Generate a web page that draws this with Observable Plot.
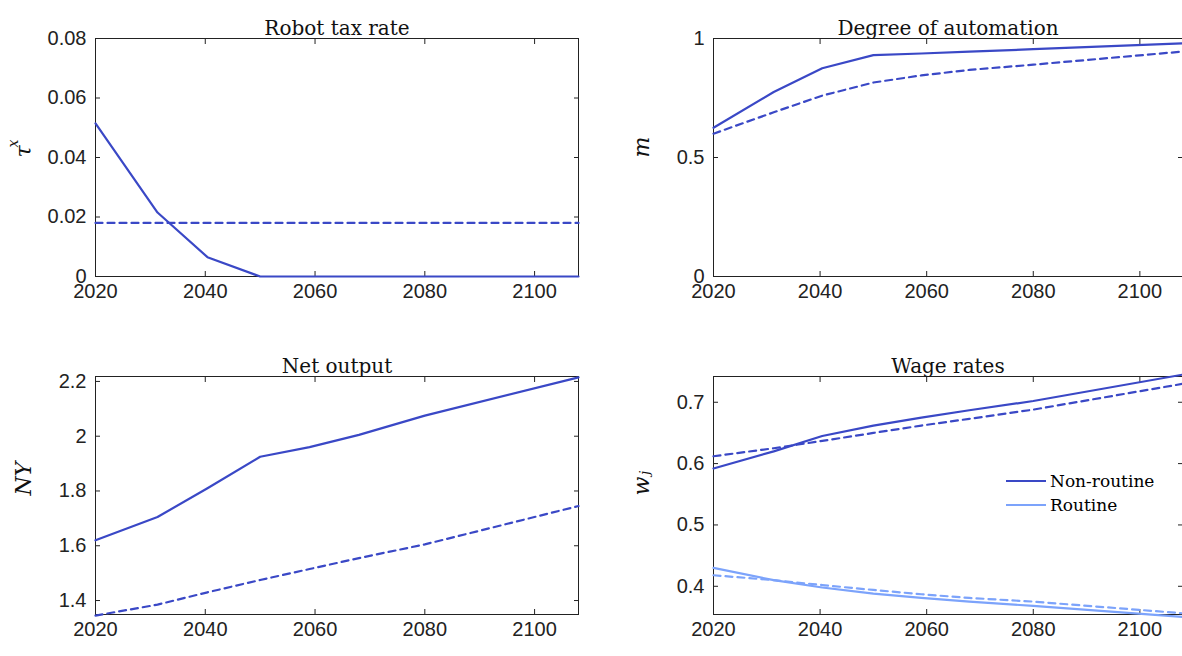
<!DOCTYPE html>
<html><head>
<script src="https://cdn.jsdelivr.net/npm/d3@7"></script>
<script src="https://cdn.jsdelivr.net/npm/@observablehq/plot@0.6"></script>
<style>
body{margin:0;background:#fff;}
#wrap{position:relative;width:1182px;height:656px;}
.p{position:absolute;}
.leg{position:absolute;font-family:"DejaVu Serif",serif;font-size:17px;}
.leg div{display:flex;align-items:center;height:24px;}
.leg span{display:inline-block;width:40px;height:0;border-top:2.5px solid;margin-right:4px;}
</style>
</head><body>
<div id="wrap"></div>
<script>
const dark = "#3a48c6", light = "#7ca3fb";
// years of knots
const yrs = [2020, 2031.3, 2040.4, 2050, 2059, 2068, 2080, 2108];
// robot tax
const tauSolid = [0.0515, 0.0215, 0.0065, 0, 0, 0, 0, 0];
const tauDash = [0.018, 0.018, 0.018, 0.018, 0.018, 0.018, 0.018, 0.018];
// automation
const mSolid = [0.625, 0.775, 0.875, 0.93, 0.937, 0.945, 0.955, 0.98];
const mDash = [0.6, 0.69, 0.76, 0.815, 0.845, 0.868, 0.89, 0.945];
// net output
const nySolid = [1.62, 1.705, 1.81, 1.925, 1.96, 2.005, 2.075, 2.215];
const nyDash = [1.345, 1.385, 1.43, 1.475, 1.515, 1.555, 1.605, 1.745];
// wages
const wNrSolid = [0.592, 0.62, 0.645, 0.662, 0.675, 0.687, 0.702, 0.745];
const wNrDash = [0.612, 0.625, 0.637, 0.65, 0.662, 0.673, 0.688, 0.73];
const wRSolid = [0.43, 0.41, 0.398, 0.388, 0.381, 0.375, 0.368, 0.35];
const wRDash = [0.418, 0.41, 0.402, 0.394, 0.387, 0.381, 0.375, 0.356];

const xTicks = [2020, 2040, 2060, 2080, 2100];
const rows = a => yrs.map((x, i) => ({x, y: a[i]}));

function panel({left, top, title, ylab, sup, yDomain, yTicks, yFmt, series}) {
  const marks = [
    Plot.frame({stroke: "#222"}),
    Plot.axisX({ticks: xTicks, tickFormat: d => String(d), tickSize: -5, tickPadding: 12, label: null}),
    Plot.axisY({ticks: yTicks, tickFormat: yFmt, tickSize: -5, tickPadding: 14, label: null}),
    Plot.axisY({ticks: yTicks, anchor: "right", tickSize: -5, tickFormat: () => "", label: null}),
    Plot.axisX({ticks: xTicks, anchor: "top", tickSize: -5, tickFormat: () => "", label: null}),
    ...series.map(s => Plot.line(rows(s.v), {x: "x", y: "y", stroke: s.c, strokeWidth: 2.2, strokeDasharray: s.d ? "7,5" : null})),
    Plot.text([title], {frameAnchor: "top", dy: -18, fontSize: 20, fontFamily: "DejaVu Serif", fill: "#111"}),
    Plot.text([ylab], {frameAnchor: "left", dx: -72, rotate: -90, fontSize: 22, fontStyle: "italic", fontFamily: "DejaVu Serif", fill: "#111"})
  ];
  if (sup) marks.push(Plot.text([sup], {frameAnchor: "left", dx: -82, dy: -10, rotate: -90, fontSize: 14, fontStyle: "italic", fontFamily: "DejaVu Serif", fill: "#111"}));
  const ch = Plot.plot({
    width: 591, height: 328,
    marginLeft: left === 0 ? 95 : 122, marginRight: left === 0 ? 13 : 0,
    marginTop: 38, marginBottom: 52,
    x: {domain: [2020, 2108]},
    y: {domain: yDomain},
    style: {fontFamily: "Liberation Sans, sans-serif", fontSize: "20px", color: "#222", overflow: "visible"},
    marks
  });
  const d = document.createElement("div");
  d.className = "p"; d.style.left = left + "px"; d.style.top = top + "px";
  d.appendChild(ch);
  document.getElementById("wrap").appendChild(d);
}

panel({left: 0, top: 0, title: "Robot tax rate", ylab: "τ", sup: "x", yDomain: [0, 0.08],
  yTicks: [0, 0.02, 0.04, 0.06, 0.08], yFmt: d => d === 0 ? "0" : d.toFixed(2),
  series: [{v: tauSolid, c: dark}, {v: tauDash, c: dark, d: true}]});
panel({left: 591, top: 0, title: "Degree of automation", ylab: "m", yDomain: [0, 1],
  yTicks: [0, 0.5, 1], yFmt: d => String(d),
  series: [{v: mSolid, c: dark}, {v: mDash, c: dark, d: true}]});
panel({left: 0, top: 338, title: "Net output", ylab: "NY", yDomain: [1.349, 2.218],
  yTicks: [1.4, 1.6, 1.8, 2, 2.2], yFmt: d => String(d),
  series: [{v: nySolid, c: dark}, {v: nyDash, c: dark, d: true}]});
panel({left: 591, top: 338, title: "Wage rates", ylab: "wⱼ", yDomain: [0.354, 0.742],
  yTicks: [0.4, 0.5, 0.6, 0.7], yFmt: d => String(d),
  series: [{v: wNrSolid, c: dark}, {v: wNrDash, c: dark, d: true}, {v: wRSolid, c: light}, {v: wRDash, c: light, d: true}]});

const leg = document.createElement("div");
leg.className = "leg"; leg.style.left = "1006px"; leg.style.top = "469px";
leg.innerHTML = `<div><span style="border-color:${dark}"></span>Non-routine</div><div><span style="border-color:${light}"></span>Routine</div>`;
document.getElementById("wrap").appendChild(leg);
</script>
</body></html>
